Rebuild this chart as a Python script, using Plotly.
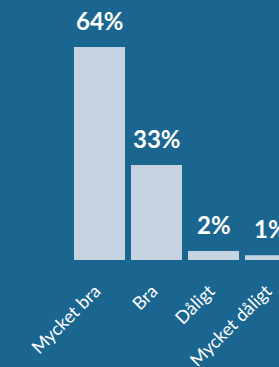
import plotly.graph_objects as go

categories = ["Mycket bra", "Bra", "Dåligt", "Mycket dåligt"]
values = [64, 28.5, 2.7, 1.4]
labels = ["64%", "33%", "2%", "1%"]

BG = "#1b6691"
BAR = "#c5d4e0"

fig = go.Figure(go.Bar(
    x=categories, y=values,
    marker=dict(color=BAR, line=dict(width=0)),
    cliponaxis=False,
))
for c, v, t in zip(categories, values, labels):
    fig.add_annotation(x=c, y=v, text=t, showarrow=False, yanchor="bottom",
                       yshift=10, font=dict(family="Lato", size=24, color="white", weight="bold"))
fig.update_layout(
    width=279, height=367,
    margin=dict(l=71, r=0, t=0, b=107),
    paper_bgcolor=BG, plot_bgcolor=BG,
    bargap=0.105,
    showlegend=False,
    xaxis=dict(range=[-0.5, 3.149], tickangle=-45, showgrid=False, zeroline=False,
               showline=False, ticks="", ticklabelstandoff=16, ticklabelshift=-4,
               automargin=False,
               tickfont=dict(family="Lato", size=18, color="white")),
    yaxis=dict(range=[0, 78.1], visible=False, showgrid=False, zeroline=False,
               automargin=False),
)
fig.write_html("out.html", config={"displayModeBar": False},
               post_script="document.body.style.margin='0';document.body.style.background='%s';" % BG)
